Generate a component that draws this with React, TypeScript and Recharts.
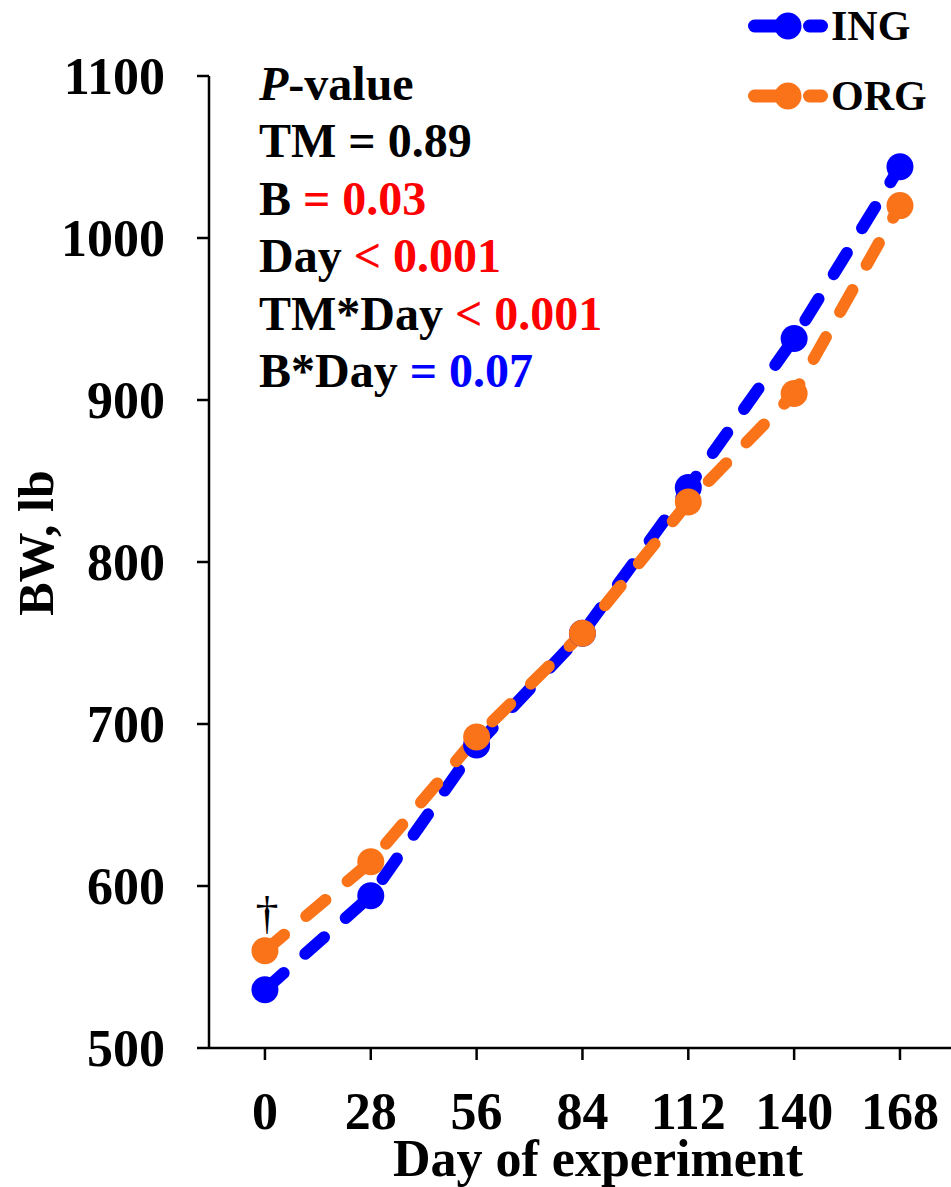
import { LineChart, Line, XAxis, YAxis, Legend, LabelList, Customized } from 'recharts';

const DAYS = [0, 28, 56, 84, 112, 140, 168];
const ING = [536, 594, 687, 756, 846, 938, 1044];
const ORG = [560, 615, 692, 756, 837, 904, 1020];
const Y_TICKS = [500, 600, 700, 800, 900, 1000, 1100];

const P_TERMS = ['TM', 'B', 'Day', 'TM*Day', 'B*Day'];
const P_VALUES = ['= 0.89', '= 0.03', '< 0.001', '< 0.001', '= 0.07'];
const P_COLORS = ['#000000', '#ff0000', '#ff0000', '#ff0000', '#0000ff'];

const BLUE = '#0000ff';
const ORANGE = '#fa7319';
const FONT = '"Liberation Serif", "Times New Roman", serif';

const data = DAYS.map((d, i) => ({ day: d, ING: ING[i], ORG: ORG[i] }));

const axisStyle = { stroke: '#000', strokeWidth: 2.5 };
const tickStyle = { fill: '#000', fontSize: 52, fontWeight: 'bold', fontFamily: FONT };

function PValueBlock() {
  const x = 259;
  const y0 = 100;
  const step = 57.4;
  return (
    <g fontFamily={FONT} fontWeight="bold" fontSize={48} fill="#000">
      <text x={x} y={y0}>
        <tspan fontStyle="italic">P</tspan>-value
      </text>
      {P_TERMS.map((t, i) => (
        <text key={t} x={x} y={y0 + step * (i + 1)}>
          {t + ' '}
          <tspan fill={P_COLORS[i]}>{P_VALUES[i]}</tspan>
        </text>
      ))}
    </g>
  );
}

function renderLegend(props: any) {
  const { payload } = props;
  return (
    <svg width={211} height={130} style={{ display: 'block' }}>
      {(payload || []).map((e: any, i: number) => {
        const cy = 26 + 70 * i;
        return (
          <g key={e.value}>
            <line x1={14.5} x2={45} y1={cy} y2={cy} stroke={e.color} strokeWidth={13} strokeLinecap="round" />
            <circle cx={48} cy={cy} r={13.5} fill={e.color} />
            <line x1={69.5} x2={81.5} y1={cy} y2={cy} stroke={e.color} strokeWidth={13} strokeLinecap="round" />
            <text x={91} y={cy + 14} fontSize={42} fontWeight="bold" fontFamily={FONT} fill="#000">
              {e.value}
            </text>
          </g>
        );
      })}
    </svg>
  );
}

function Dagger(p: any) {
  if (p.index !== 0) return null;
  return (
    <text x={p.x + 2} y={p.y - 22} textAnchor="middle" fontSize={46} fontFamily={FONT} fill="#000">
      †
    </text>
  );
}

export default function App() {
  return (
    <div style={{ position: 'absolute', left: 0, top: 0, width: 951, height: 1187, background: '#fff' }}>
      <LineChart width={951} height={1187} data={data} margin={{ top: 76, right: 0, bottom: 39, left: 9 }}>
        <XAxis
          dataKey="day"
          type="number"
          domain={[-14.8, 181.5]}
          ticks={DAYS}
          height={100}
          axisLine={axisStyle}
          tickLine={axisStyle}
          tickSize={12}
          tickMargin={32}
          tick={tickStyle}
          interval={0}
          label={{
            content: (p: any) => (
              <text
                x={p.viewBox.x + p.viewBox.width / 2 + 18}
                y={1176}
                textAnchor="middle"
                fontSize={52}
                fontWeight="bold"
                fontFamily={FONT}
                fill="#000"
              >
                Day of experiment
              </text>
            ),
          }}
        />
        <YAxis
          type="number"
          domain={[500, 1100]}
          ticks={Y_TICKS}
          width={200}
          axisLine={axisStyle}
          tickLine={axisStyle}
          tickSize={12}
          tickMargin={32}
          tick={tickStyle}
          interval={0}
          label={{
            content: () => (
              <text
                x={53}
                y={543}
                transform="rotate(-90, 53, 543)"
                textAnchor="middle"
                fontSize={50}
                fontWeight="bold"
                fontFamily={FONT}
                fill="#000"
              >
                BW, lb
              </text>
            ),
          }}
        />
        <Legend
          layout="horizontal"
          verticalAlign="middle"
          align="center"
          content={renderLegend}
          wrapperStyle={{ position: 'absolute', left: 740, top: 0, width: 211, height: 130 }}
        />
        <Customized component={PValueBlock} />
        <Line
          type="linear"
          dataKey="ING"
          name="ING"
          stroke={BLUE}
          strokeWidth={12}
          strokeDasharray="25 29"
          strokeLinecap="round"
          dot={{ r: 13.5, fill: BLUE, stroke: 'none' }}
          activeDot={false}
          isAnimationActive={false}
        />
        <Line
          type="linear"
          dataKey="ORG"
          name="ORG"
          stroke={ORANGE}
          strokeWidth={12}
          strokeDasharray="25 29"
          strokeLinecap="round"
          dot={{ r: 13.5, fill: ORANGE, stroke: 'none' }}
          activeDot={false}
          isAnimationActive={false}
        >
          <LabelList dataKey="ORG" content={Dagger} />
        </Line>
      </LineChart>
    </div>
  );
}
